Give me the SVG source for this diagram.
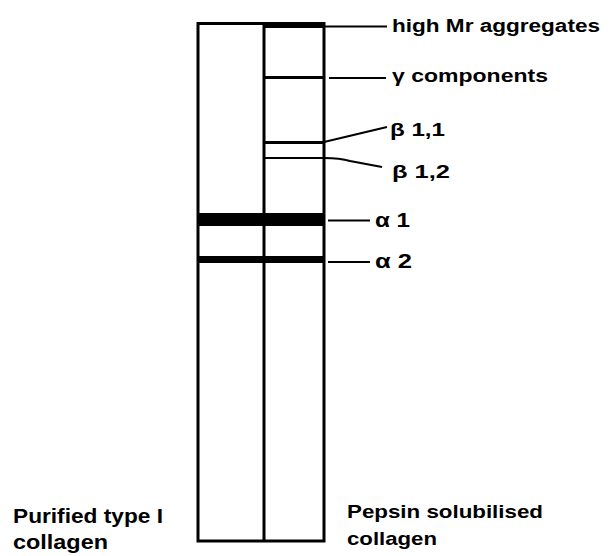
<svg xmlns="http://www.w3.org/2000/svg" width="611" height="556" viewBox="0 0 611 556">
<style>
.lane{fill:none;stroke:#000;stroke-width:3}
.band{fill:#000}
.conn{fill:none;stroke:#000;stroke-width:2}
.lbl{font-family:"Liberation Sans",Arial,sans-serif;font-weight:bold;fill:#000}
</style>
<rect width="611" height="556" fill="#fff"/>
<g id="gel">
<rect class="lane" x="198" y="23.5" width="126" height="517.5"/>
<line class="lane" x1="264" y1="23.5" x2="264" y2="541"/>
</g>
<g id="bands">
<rect id="band-highMr" class="band" x="264" y="22" width="61" height="6"/>
<rect id="band-gamma" class="band" x="264" y="76" width="61" height="3"/>
<rect id="band-beta11" class="band" x="264" y="141" width="61" height="3"/>
<rect id="band-beta12" class="band" x="264" y="157" width="61" height="2"/>
<rect id="band-alpha1" class="band" x="197" y="213" width="128" height="13"/>
<rect id="band-alpha2" class="band" x="197" y="256" width="128" height="7"/>
</g>
<g id="connectors">
<line class="conn" x1="324" y1="26.5" x2="387" y2="26.5"/>
<line class="conn" x1="329" y1="78" x2="386" y2="78"/>
<path class="conn" d="M324 142 L387 127"/>
<path class="conn" d="M324 158 Q340 158 350 161 L382 167"/>
<line class="conn" x1="328" y1="220.5" x2="370" y2="220.5"/>
<line class="conn" x1="328" y1="262" x2="370" y2="262"/>
</g>
<g id="label-highMr"><text class="lbl" x="392" y="32" font-size="18" textLength="208" lengthAdjust="spacingAndGlyphs">high Mr aggregates</text></g>
<g id="label-gamma"><text class="lbl" x="392" y="82" font-size="18" textLength="156" lengthAdjust="spacingAndGlyphs">γ components</text></g>
<g id="label-beta11"><text class="lbl" x="390" y="136" font-size="19" textLength="55" lengthAdjust="spacingAndGlyphs">β 1,1</text></g>
<g id="label-beta12"><text class="lbl" x="392" y="178" font-size="19" textLength="58" lengthAdjust="spacingAndGlyphs">β 1,2</text></g>
<g id="label-alpha1"><text class="lbl" x="375" y="227" font-size="20" textLength="35" lengthAdjust="spacingAndGlyphs">α 1</text></g>
<g id="label-alpha2"><text class="lbl" x="375" y="268" font-size="20" textLength="37" lengthAdjust="spacingAndGlyphs">α 2</text></g>
<g id="label-purified">
<text class="lbl" x="13" y="523" font-size="20" textLength="150" lengthAdjust="spacingAndGlyphs">Purified type I</text>
<text class="lbl" x="13" y="549" font-size="20" textLength="95" lengthAdjust="spacingAndGlyphs">collagen</text>
</g>
<g id="label-pepsin">
<text class="lbl" x="347" y="518" font-size="19" textLength="196" lengthAdjust="spacingAndGlyphs">Pepsin solubilised</text>
<text class="lbl" x="347" y="545" font-size="19" textLength="90" lengthAdjust="spacingAndGlyphs">collagen</text>
</g>
</svg>
